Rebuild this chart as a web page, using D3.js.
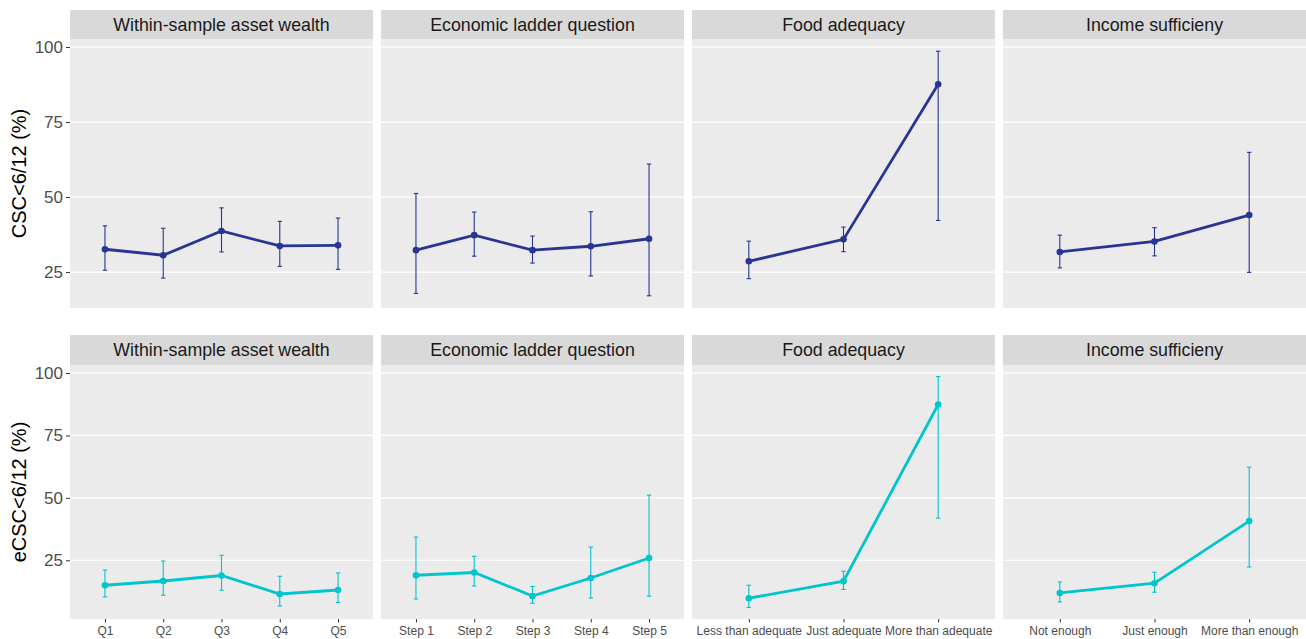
<!DOCTYPE html>
<html><head><meta charset="utf-8">
<script src="https://cdn.jsdelivr.net/npm/d3@7"></script>
<style>body{margin:0;background:#fff;}svg{display:block;font-family:"Liberation Sans",Arial,sans-serif;}</style>
</head><body>
<svg id="chart" width="1306" height="639"></svg>
<script>
const facets = ["Within-sample asset wealth","Economic ladder question","Food adequacy","Income sufficieny"];
const categories = [
  ["Q1","Q2","Q3","Q4","Q5"],
  ["Step 1","Step 2","Step 3","Step 4","Step 5"],
  ["Less than adequate","Just adequate","More than adequate"],
  ["Not enough","Just enough","More than enough"]
];
const rowTitles = ["CSC<6/12 (%)","eCSC<6/12 (%)"];
const yTicks = [25,50,75,100];
// CSC<6/12 estimate, lower, upper per facet
const cscEst = [[32.6,30.6,38.7,33.7,33.9],[32.3,37.3,32.3,33.6,36.1],[28.6,35.9,87.6],[31.7,35.2,44.0]];
const cscLow = [[25.6,23.0,31.7,26.9,25.9],[17.9,30.3,28.0,23.7,17.1],[22.8,31.8,42.2],[26.4,30.4,24.9]];
const cscUp  = [[40.4,39.6,46.4,41.9,43.0],[51.2,45.0,37.0,45.1,61.0],[35.3,40.0,98.6],[37.3,39.8,64.9]];
// eCSC<6/12
const ecscEst = [[15.0,16.7,18.9,11.5,13.1],[19.0,20.1,10.7,17.9,25.9],[9.8,16.6,87.4],[11.9,15.8,40.7]];
const ecscLow = [[10.3,11.0,13.0,6.7,8.1],[9.5,14.7,7.8,9.9,10.6],[6.1,13.3,41.9],[8.3,12.2,22.3]];
const ecscUp  = [[21.1,24.7,27.0,18.6,19.9],[34.3,26.6,14.5,30.3,51.1],[15.0,20.6,98.6],[16.3,20.2,62.3]];

const rows = [
  {title: rowTitles[0], est: cscEst, low: cscLow, up: cscUp, color: "#283593", stripTop: 10, panelTop: 39, panelBottom: 308},
  {title: rowTitles[1], est: ecscEst, low: ecscLow, up: ecscUp, color: "#00C5CD", stripTop: 335, panelTop: 365, panelBottom: 619}
];
const panelX = [70, 381, 692, 1003];
const panelW = 303;

const svg = d3.select("#chart");

rows.forEach((row, ri) => {
  const allVals = row.low.flat().concat(row.up.flat());
  const [mn, mx] = d3.extent(allVals);
  const pad = (mx - mn) * 0.05;
  const y = d3.scaleLinear().domain([mn - pad, mx + pad]).range([row.panelBottom, row.panelTop]);

  // y title
  svg.append("text")
    .attr("transform", `translate(26,${(row.panelTop + row.panelBottom) / 2}) rotate(-90)`)
    .attr("text-anchor", "middle")
    .attr("font-size", 20).attr("fill", "#000")
    .text(row.title);

  // y axis
  const yAxis = svg.append("g").attr("transform", `translate(${panelX[0]},0)`)
    .call(d3.axisLeft(y).tickValues(yTicks).tickSize(4).tickPadding(3));
  yAxis.select(".domain").remove();
  yAxis.selectAll(".tick line").attr("stroke", "#333").attr("stroke-width", 1);
  yAxis.selectAll(".tick text").attr("font-size", 17).attr("fill", "#4d4d4d").attr("font-family", "Liberation Sans, Arial, sans-serif");

  facets.forEach((f, fi) => {
    const px = panelX[fi];
    const cats = categories[fi];
    const x = d3.scalePoint().domain(cats).range([px, px + panelW]).padding(0.6);
    const g = svg.append("g");
    // strip
    g.append("rect").attr("x", px).attr("y", row.stripTop).attr("width", panelW)
      .attr("height", row.panelTop - row.stripTop).attr("fill", "#d9d9d9");
    g.append("text").attr("x", px + panelW / 2).attr("y", (row.stripTop + row.panelTop) / 2 + 6)
      .attr("text-anchor", "middle").attr("font-size", 17.8).attr("fill", "#1a1a1a").text(f);
    // panel
    g.append("rect").attr("x", px).attr("y", row.panelTop).attr("width", panelW)
      .attr("height", row.panelBottom - row.panelTop).attr("fill", "#ebebeb");
    yTicks.forEach(t => {
      g.append("line").attr("x1", px).attr("x2", px + panelW).attr("y1", y(t)).attr("y2", y(t))
        .attr("stroke", "#fff").attr("stroke-width", 1.2);
    });
    // x axis (bottom row only)
    if (ri === 1) {
      const xa = svg.append("g").attr("transform", `translate(0,${row.panelBottom})`)
        .call(d3.axisBottom(x).tickSize(3.5).tickPadding(3.5));
      xa.select(".domain").remove();
      xa.selectAll(".tick line").attr("stroke", "#333");
      xa.selectAll(".tick text").attr("font-size", 12).attr("fill", "#4d4d4d").attr("font-family", "Liberation Sans, Arial, sans-serif");
    }
    const data = cats.map((c, i) => ({c, est: row.est[fi][i], low: row.low[fi][i], up: row.up[fi][i]}));
    // error bars
    data.forEach(d => {
      const cx = x(d.c);
      g.append("line").attr("x1", cx).attr("x2", cx).attr("y1", y(d.low)).attr("y2", y(d.up))
        .attr("stroke", row.color).attr("stroke-width", 1.1);
      [d.low, d.up].forEach(v => {
        g.append("line").attr("x1", cx - 2.2).attr("x2", cx + 2.2).attr("y1", y(v)).attr("y2", y(v))
          .attr("stroke", row.color).attr("stroke-width", 1.1);
      });
    });
    g.append("path").datum(data)
      .attr("d", d3.line().x(d => x(d.c)).y(d => y(d.est)))
      .attr("fill", "none").attr("stroke", row.color).attr("stroke-width", 2.8);
    g.selectAll("circle").data(data).join("circle")
      .attr("cx", d => x(d.c)).attr("cy", d => y(d.est)).attr("r", 3.3).attr("fill", row.color);
  });
});
</script>
</body></html>
